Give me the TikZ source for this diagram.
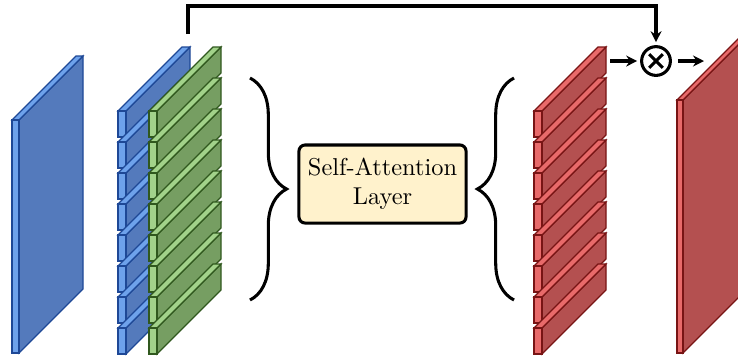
\documentclass[tikz,border=0pt]{standalone}
\usetikzlibrary{arrows.meta,decorations.pathreplacing}

\definecolor{bluemain}{RGB}{84,122,188}
\definecolor{bluelite}{RGB}{110,162,235}
\definecolor{blueedge}{RGB}{30,72,150}
\definecolor{greenmain}{RGB}{118,158,98}
\definecolor{greenlite}{RGB}{162,210,138}
\definecolor{greenedge}{RGB}{48,88,30}
\definecolor{redmain}{RGB}{180,80,80}
\definecolor{redlite}{RGB}{232,106,106}
\definecolor{rededge}{RGB}{120,20,20}
\definecolor{layerfill}{RGB}{255,242,204}

\begin{document}
\begin{tikzpicture}[x=0.41pt, y=-0.41pt,
	thick line/.style={line width=1.25pt},
	arrow/.style={thick line, -{Stealth[length=4.5pt, width=4.5pt]}},
	bigbrace/.style={thick line, decorate, decoration={brace, amplitude=15pt}},
	layer/.style={draw, thick line, fill=layerfill, rounded corners=2.5pt, align=center,
		minimum width=68.5pt, minimum height=32pt, inner sep=2pt},
	otimes/.style={circle, draw, thick line, minimum size=11.8pt, inner sep=0pt,
		path picture={
			\draw[thick line] (path picture bounding box.center) ++(-2.8pt,-2.8pt) -- ++(5.6pt,5.6pt);
			\draw[thick line] (path picture bounding box.center) ++(-2.8pt,2.8pt) -- ++(5.6pt,-5.6pt);
		}},
]

\useasboundingbox (0,0) rectangle (738,356);
\clip (0,0) rectangle (738,356);

% one slab: left x, top y, bottom y, front width, colour
\newcommand\slab[5]{
	\filldraw[#5edge, fill=#5main, line width=0.5pt] (#1+#4, #2) -- ++(64,-64) -- (#1+#4+64, #3-64) -- (#1+#4, #3) -- cycle;
	\filldraw[#5edge, fill=#5lite, line width=0.5pt] (#1, #2) -- (#1+#4, #2) -- ++(64,-64) -- (#1+64, #2-64) -- cycle;
	\filldraw[#5edge, fill=#5lite, line width=0.5pt] (#1, #2) rectangle (#1+#4, #3);
}

% stack of eight thin slabs
\newcommand\slabstack[2]{
	\foreach \i in {0, ..., 7} {
		\pgfmathsetmacro\ytop{111 + 31*\i}
		\slab{#1}{\ytop}{\ytop+26}{8}{#2}
	}
}

\slab{12}{120}{353}{7}{blue}
\slabstack{118}{blue}
\slabstack{149}{green}
\slabstack{534}{red}
\slab{677}{100}{353}{6}{red}

\draw[bigbrace] (250, 78) -- (250, 300);
\draw[bigbrace] (514, 300) -- (514, 78);

\node[layer] (attn) at (382.5, 184) {Self-Attention\\Layer};

\node[otimes] (mul) at (656, 61) {};
\coordinate (skip) at (188, 34);
\coordinate (skiptop) at (188, 6);
\coordinate (redout) at (610, 61);
\coordinate (outin) at (704, 61);

\draw[arrow, shorten >=1.2pt] (skip) -- (skiptop) -| (mul);
\draw[arrow, shorten >=1.2pt] (redout) -- (mul);
\draw[arrow, shorten <=2.4pt] (mul) -- (outin);

\end{tikzpicture}
\end{document}
